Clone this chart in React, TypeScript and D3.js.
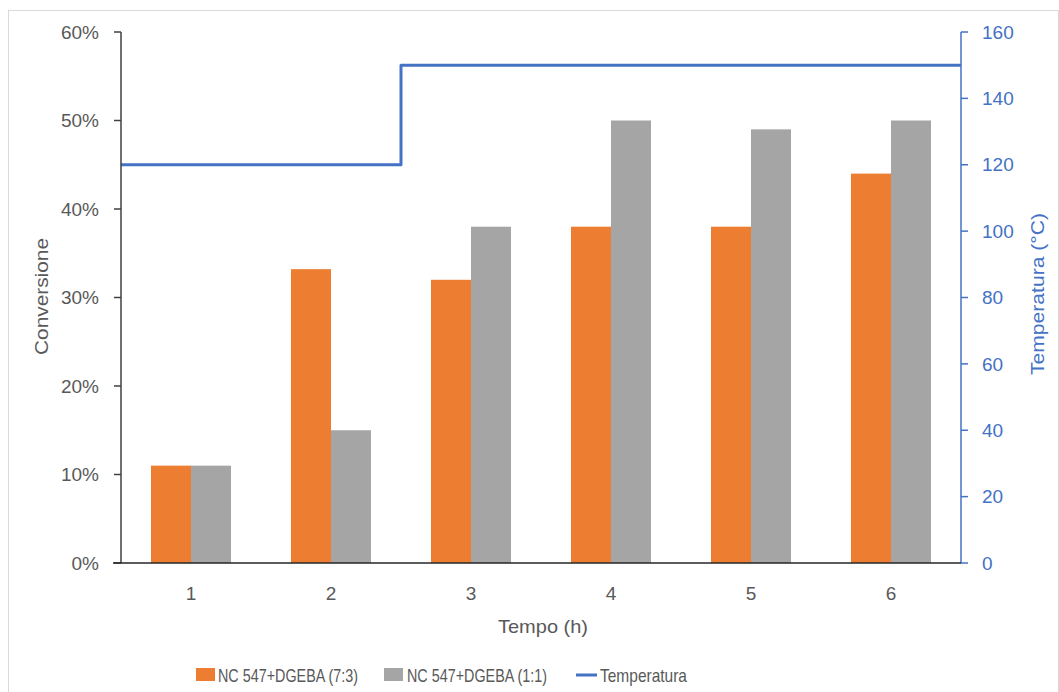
import * as d3 from 'd3'

const CATEGORIES = ['1', '2', '3', '4', '5', '6']
const SERIES_73 = [0.11, 0.332, 0.32, 0.38, 0.38, 0.44]
const SERIES_11 = [0.11, 0.15, 0.38, 0.5, 0.49, 0.5]
const TEMP_TIME = [0, 2, 2, 6]
const TEMP_VALUES = [120, 120, 150, 150]
const LEFT_TICKS = [0, 0.1, 0.2, 0.3, 0.4, 0.5, 0.6]
const RIGHT_TICKS = [0, 20, 40, 60, 80, 100, 120, 140, 160]

const W = 1059
const H = 692
const MARGIN = { top: 32, right: 98, bottom: 129, left: 121 }
const FONT = '"Liberation Sans", Arial, sans-serif'
const TEXT = '#595959'
const ORANGE = '#ED7D31'
const GRAY = '#A5A5A5'
const BLUE = '#4472C4'

export default function App() {
  const innerW = W - MARGIN.left - MARGIN.right
  const innerH = H - MARGIN.top - MARGIN.bottom

  const x = d3.scaleBand().domain(CATEGORIES).range([0, innerW]).paddingInner(0.4286).paddingOuter(0.2143)
  const xBand = d3.scaleBand().domain(CATEGORIES).range([0, innerW])
  const xSub = d3.scaleBand().domain(['a', 'b']).range([0, x.bandwidth()])
  const xTime = d3.scaleLinear().domain([0, 6]).range([0, innerW])
  const yL = d3.scaleLinear().domain([0, 0.6]).range([innerH, 0])
  const yR = d3.scaleLinear().domain([0, 160]).range([innerH, 0])

  const tempLine = d3.line<number>()
    .x((_, i) => xTime(TEMP_TIME[i]))
    .y(d => yR(d))(TEMP_VALUES)

  const fmt = d3.format('.0%')

  return (
    <svg width={W} height={H} style={{ position: 'absolute', left: 0, top: 0 }} fontFamily={FONT}>
      <rect x={8.5} y={10.5} width={W - 9} height={H} fill="white" stroke="#d9d9d9" />
      <g transform={`translate(${MARGIN.left},${MARGIN.top})`}>
        {/* bars */}
        {CATEGORIES.map((c, i) => (
          <g key={c} transform={`translate(${x(c)},0)`}>
            <rect x={xSub('a')} y={yL(SERIES_73[i])} width={xSub.bandwidth()} height={innerH - yL(SERIES_73[i])} fill={ORANGE} />
            <rect x={xSub('b')} y={yL(SERIES_11[i])} width={xSub.bandwidth()} height={innerH - yL(SERIES_11[i])} fill={GRAY} />
          </g>
        ))}

        {/* temperature */}
        <path d={tempLine ?? ''} fill="none" stroke={BLUE} strokeWidth={3} strokeLinejoin="round" />

        {/* left axis */}
        <line x1={0} x2={0} y1={0} y2={innerH} stroke="#404040" strokeWidth={1.5} />
        {LEFT_TICKS.map(t => (
          <g key={t} transform={`translate(0,${yL(t)})`}>
            <line x1={-7} x2={0} stroke="#404040" strokeWidth={1.5} />
            <text x={-22} dy="0.35em" textAnchor="end" fontSize={19} fill={TEXT}>{fmt(t)}</text>
          </g>
        ))}

        {/* right axis */}
        <line x1={innerW} x2={innerW} y1={0} y2={innerH} stroke={BLUE} strokeWidth={1.5} />
        {RIGHT_TICKS.map(t => (
          <g key={t} transform={`translate(${innerW},${yR(t)})`}>
            <line x1={0} x2={7} stroke={BLUE} strokeWidth={1.5} />
            <text x={21} dy="0.35em" textAnchor="start" fontSize={19} fill={BLUE}>{t}</text>
          </g>
        ))}

        {/* bottom axis */}
        <line x1={-8} x2={innerW} y1={innerH} y2={innerH} stroke="#262626" strokeWidth={1.5} />
        {CATEGORIES.map(c => (
          <text key={c} x={(xBand(c) ?? 0) + xBand.bandwidth() / 2} y={innerH + 37} textAnchor="middle" fontSize={19} fill={TEXT}>{c}</text>
        ))}

        {/* axis titles */}
        <text x={498 - MARGIN.left} y={633 - MARGIN.top} fontSize={19} fill={TEXT} textLength={90} lengthAdjust="spacingAndGlyphs">Tempo (h)</text>
        <text transform={`translate(${41 - MARGIN.left},${355 - MARGIN.top}) rotate(-90)`} dy="0.35em" fontSize={19} fill={TEXT} textLength={117} lengthAdjust="spacingAndGlyphs">Conversione</text>
        <text transform={`translate(${1037 - MARGIN.left},${375 - MARGIN.top}) rotate(-90)`} dy="0.35em" fontSize={19} fill={BLUE} textLength={162} lengthAdjust="spacingAndGlyphs">Temperatura (°C)</text>
      </g>

      {/* legend */}
      <g fontSize={19} fill={TEXT}>
        <rect x={196} y={668} width={19} height={13} fill={ORANGE} />
        <text x={218} y={675} dy="0.35em" textLength={140} lengthAdjust="spacingAndGlyphs">NC 547+DGEBA (7:3)</text>
        <rect x={384} y={668} width={19} height={13} fill={GRAY} />
        <text x={407} y={675} dy="0.35em" textLength={140} lengthAdjust="spacingAndGlyphs">NC 547+DGEBA (1:1)</text>
        <line x1={576} x2={597} y1={675} y2={675} stroke={BLUE} strokeWidth={3} />
        <text x={600} y={675} dy="0.35em" textLength={87} lengthAdjust="spacingAndGlyphs">Temperatura</text>
      </g>
    </svg>
  )
}
